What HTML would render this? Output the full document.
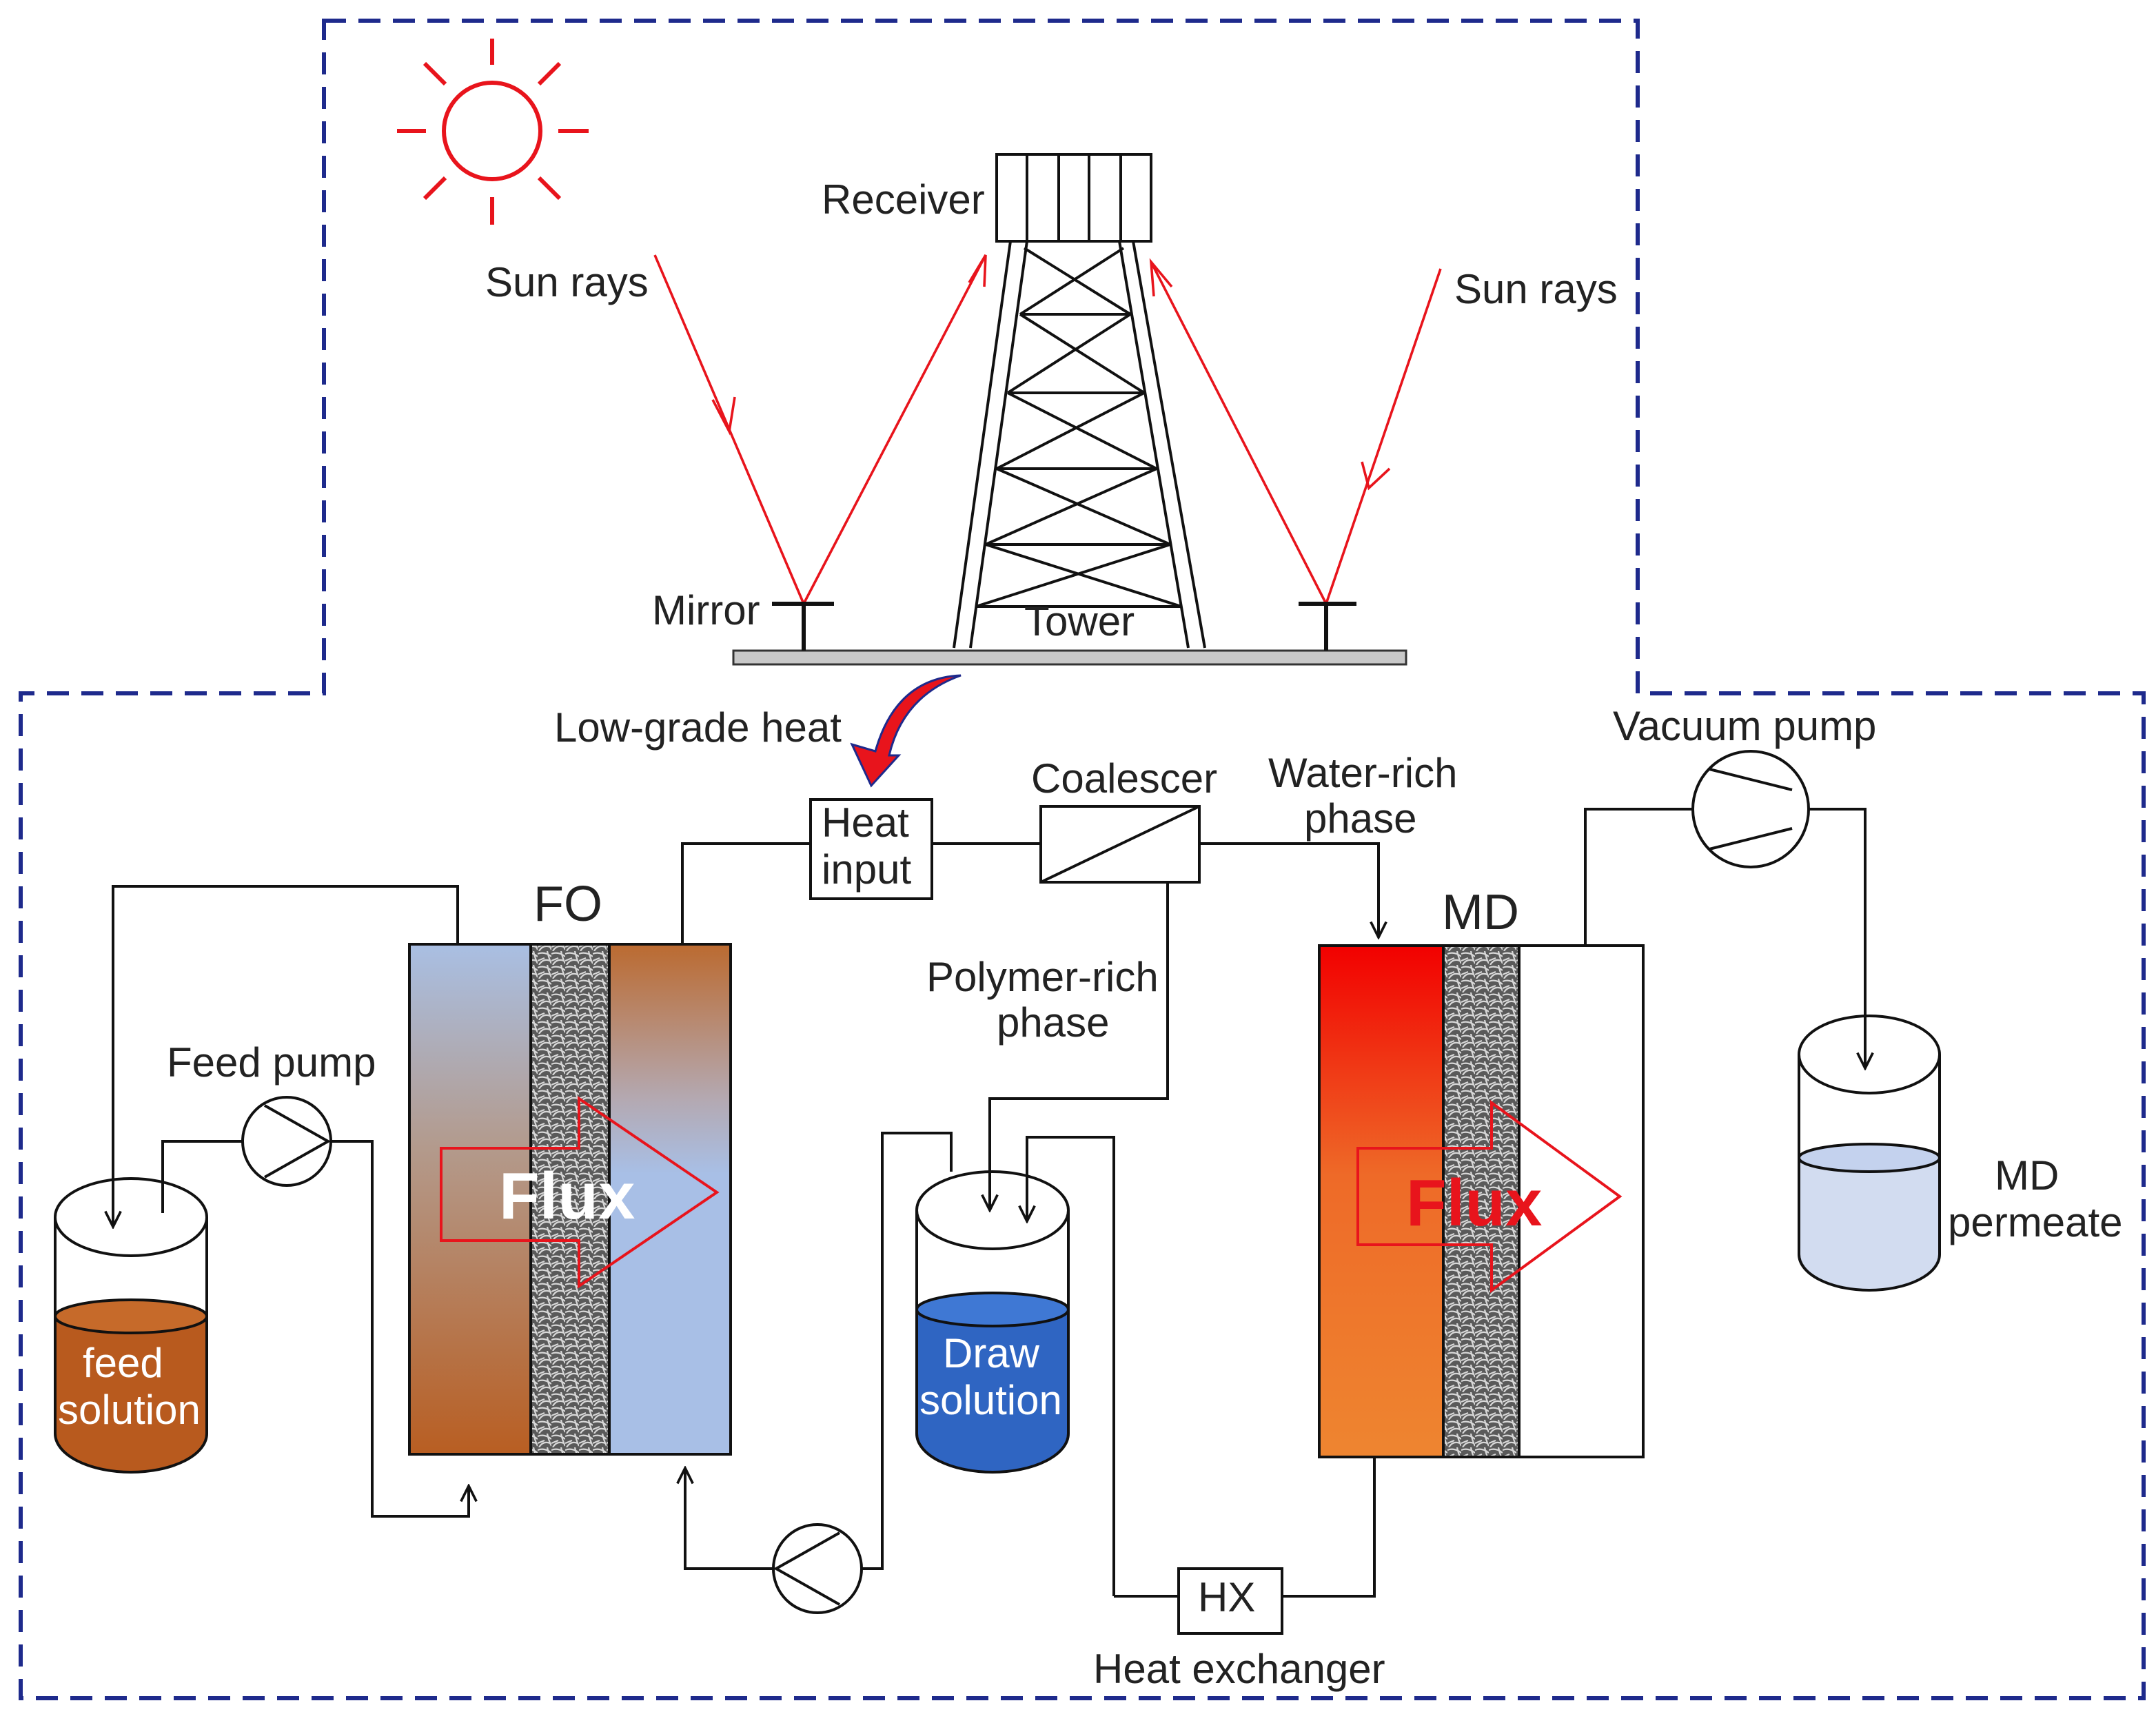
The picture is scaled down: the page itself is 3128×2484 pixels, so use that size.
<!DOCTYPE html>
<html><head><meta charset="utf-8"><style>
html,body{margin:0;padding:0;background:#fff;}
svg{display:block;}
text{font-family:"Liberation Sans",Arial,sans-serif;font-size:30px;fill:#222;}
</style></head><body>
<svg width="3128" height="2484" viewBox="0 0 1564 1242" xmlns="http://www.w3.org/2000/svg">
<defs>
<marker id="ah" viewBox="0 0 10 10" refX="9" refY="5" markerWidth="7" markerHeight="7" orient="auto"><path d="M1,1 L9,5 L1,9" fill="none" stroke="#111" stroke-width="1.3"/></marker>
<linearGradient id="foL" x1="0" y1="0" x2="0" y2="1"><stop offset="0" stop-color="#a9bfe3"/><stop offset="0.4" stop-color="#b39a8c"/><stop offset="1" stop-color="#b85e22"/></linearGradient>
<linearGradient id="foR" x1="0" y1="0" x2="0" y2="1"><stop offset="0" stop-color="#bb6a30"/><stop offset="0.3" stop-color="#b4a8b0"/><stop offset="0.45" stop-color="#a8bfe6"/><stop offset="1" stop-color="#a8bfe6"/></linearGradient>
<linearGradient id="md" x1="0" y1="0" x2="0" y2="1"><stop offset="0" stop-color="#f20000"/><stop offset="0.45" stop-color="#ee6a28"/><stop offset="1" stop-color="#ee8530"/></linearGradient>
<pattern id="mem" width="10" height="10" patternUnits="userSpaceOnUse"><rect width="10" height="10" fill="#5a5a5a"/><path d="M0,2 Q5,0 10,4 M1,10 Q4,5 9,7 M0,7 L5,5 M7,0 Q8,5 10,9" stroke="#d8d8d8" stroke-width="1.1" fill="none"/></pattern>
</defs>

<polygon points="235,15 1188,15 1188,503 1555,503 1555,1232 15,1232 15,503 235,503" fill="none" stroke="#1e2a8c" stroke-width="3" stroke-dasharray="16,9"/>

<g stroke="#e8141c" stroke-width="3" fill="none">
<circle cx="357" cy="95" r="35"/>
<line x1="357" y1="47" x2="357" y2="28"/><line x1="357" y1="143" x2="357" y2="163"/>
<line x1="309" y1="95" x2="288" y2="95"/><line x1="405" y1="95" x2="427" y2="95"/>
<line x1="323" y1="61" x2="308" y2="46"/><line x1="391" y1="61" x2="406" y2="46"/>
<line x1="323" y1="129" x2="308" y2="144"/><line x1="391" y1="129" x2="406" y2="144"/>
</g>

<g stroke="#e8141c" stroke-width="1.8" fill="none">
<polyline points="475,185 583,438 715,185"/>
<polyline points="1045,195 962,438 835,190"/>
<path d="M517,290 L529,313 L533,288" />
<path d="M703,205 L715,185 L714,208" />
<path d="M988,335 L993,354 L1008,340" />
<path d="M837,215 L835,190 L850,208" />
</g>

<rect x="723" y="112" width="112" height="63" fill="#fff" stroke="#111" stroke-width="2"/>
<g stroke="#111" stroke-width="2"><line x1="745" y1="112" x2="745" y2="175"/><line x1="768" y1="112" x2="768" y2="175"/><line x1="790" y1="112" x2="790" y2="175"/><line x1="813" y1="112" x2="813" y2="175"/></g>

<g stroke="#111" stroke-width="2" fill="none">
<line x1="733" y1="175" x2="692" y2="470"/><line x1="745" y1="175" x2="704" y2="470"/>
<line x1="812" y1="175" x2="862" y2="470"/><line x1="822" y1="175" x2="874" y2="470"/>
<line x1="740" y1="228" x2="820" y2="228"/>
<line x1="731" y1="285" x2="830" y2="285"/>
<line x1="723" y1="340" x2="839" y2="340"/>
<line x1="715" y1="395" x2="849" y2="395"/>
<line x1="708" y1="440" x2="857" y2="440"/>
<line x1="743" y1="180" x2="820" y2="228"/><line x1="815" y1="180" x2="740" y2="228"/>
<line x1="740" y1="228" x2="830" y2="285"/><line x1="820" y1="228" x2="731" y2="285"/>
<line x1="731" y1="285" x2="839" y2="340"/><line x1="830" y1="285" x2="723" y2="340"/>
<line x1="723" y1="340" x2="849" y2="395"/><line x1="839" y1="340" x2="715" y2="395"/>
<line x1="715" y1="395" x2="857" y2="440"/><line x1="849" y1="395" x2="708" y2="440"/>
</g>
<rect x="532" y="472" width="488" height="10" fill="#c8c8c8" stroke="#333" stroke-width="1.5"/>
<g stroke="#111" stroke-width="3"><line x1="560" y1="438" x2="605" y2="438"/><line x1="583" y1="438" x2="583" y2="472"/><line x1="942" y1="438" x2="984" y2="438"/><line x1="962" y1="438" x2="962" y2="472"/></g>

<text x="596" y="155">Receiver</text>
<text x="352" y="215">Sun rays</text>
<text x="1055" y="220">Sun rays</text>
<text x="473" y="453">Mirror</text>
<text x="743" y="461">Tower</text>

<path d="M697,490 Q650,492 635,545 L618,540 L632,570 L652,548 L645,548 Q655,505 697,490 Z" fill="#e8141c" stroke="#1e2a8c" stroke-width="1.5"/>
<text x="402" y="538">Low-grade heat</text>

<g stroke="#111" stroke-width="2" fill="none">
<line x1="676" y1="612" x2="755" y2="612"/>
<polyline points="870,612 1000,612 1000,680" marker-end="url(#ah)"/>
<polyline points="588,612 495,612 495,685"/>
<polyline points="332,685 332,643 82,643 82,890" marker-end="url(#ah)"/>
<polyline points="118,880 118,828 176,828"/>
<polyline points="240,828 270,828 270,1100 340,1100 340,1078" marker-end="url(#ah)"/>
<polyline points="561,1138 497,1138 497,1065" marker-end="url(#ah)"/>
<polyline points="625,1138 640,1138 640,822 690,822 690,850"/>
<polyline points="847,640 847,797 718,797 718,878" marker-end="url(#ah)"/>
<polyline points="808,1158 808,825 745,825 745,886" marker-end="url(#ah)"/>
<line x1="808" y1="1158" x2="855" y2="1158"/>
<polyline points="930,1158 997,1158 997,1057"/>
<polyline points="1150,686 1150,587 1228,587"/>
<polyline points="1312,587 1353,587 1353,775" marker-end="url(#ah)"/>
</g>

<rect x="588" y="580" width="88" height="72" fill="#fff" stroke="#111" stroke-width="2"/>
<text x="596" y="607">Heat</text><text x="596" y="641">input</text>
<rect x="755" y="585" width="115" height="55" fill="#fff" stroke="#111" stroke-width="2"/>
<line x1="755" y1="640" x2="870" y2="585" stroke="#111" stroke-width="2"/>
<text x="748" y="575">Coalescer</text>
<text x="920" y="571">Water-rich</text><text x="946" y="604">phase</text>
<text x="672" y="719">Polymer-rich</text><text x="723" y="752">phase</text>

<rect x="297" y="685" width="88" height="370" fill="url(#foL)" stroke="#111" stroke-width="2"/>
<rect x="385" y="685" width="57" height="370" fill="url(#mem)" stroke="#111" stroke-width="2"/>
<rect x="442" y="685" width="88" height="370" fill="url(#foR)" stroke="#111" stroke-width="2"/>
<text x="387" y="668" style="font-size:36px">FO</text>
<polygon points="320,833 420,833 420,797 520,865 420,933 420,900 320,900" fill="none" stroke="#e8141c" stroke-width="2"/>
<text x="362" y="884" style="font-size:48px;font-weight:bold;fill:#fff">Flux</text>

<rect x="957" y="686" width="90" height="371" fill="url(#md)" stroke="#111" stroke-width="2"/>
<rect x="1047" y="686" width="55" height="371" fill="url(#mem)" stroke="#111" stroke-width="2"/>
<rect x="1102" y="686" width="90" height="371" fill="#fff" stroke="#111" stroke-width="2"/>
<text x="1046" y="674" style="font-size:36px">MD</text>
<polygon points="985,833 1082,833 1082,800 1175,868 1082,936 1082,903 985,903" fill="none" stroke="#e8141c" stroke-width="2"/>
<text x="1020" y="889" style="font-size:48px;font-weight:bold;fill:#e8141c">Flux</text>

<path d="M40,955 L40,1040 A55,28 0 0 0 150,1040 L150,955 Z" fill="#b85a1e"/>
<ellipse cx="95" cy="955" rx="55" ry="12" fill="#c66a2a" stroke="#111" stroke-width="2"/>
<path d="M40,883 L40,1040 A55,28 0 0 0 150,1040 L150,883" fill="none" stroke="#111" stroke-width="2"/>
<ellipse cx="95" cy="883" rx="55" ry="28" fill="none" stroke="#111" stroke-width="2"/>
<text x="60" y="999" style="fill:#fff">feed</text><text x="42" y="1033" style="fill:#fff">solution</text>

<path d="M665,950 L665,1040 A55,28 0 0 0 775,1040 L775,950 Z" fill="#2f65c2"/>
<ellipse cx="720" cy="950" rx="55" ry="12" fill="#3f78d4" stroke="#111" stroke-width="2"/>
<path d="M665,878 L665,1040 A55,28 0 0 0 775,1040 L775,878" fill="none" stroke="#111" stroke-width="2"/>
<ellipse cx="720" cy="878" rx="55" ry="28" fill="none" stroke="#111" stroke-width="2"/>
<text x="684" y="992" style="fill:#fff">Draw</text><text x="667" y="1026" style="fill:#fff">solution</text>

<path d="M1305,840 L1305,910 A51,26 0 0 0 1407,910 L1407,840 Z" fill="#d2dcf0"/>
<ellipse cx="1356" cy="840" rx="51" ry="10" fill="#c4d2ee" stroke="#111" stroke-width="2"/>
<path d="M1305,765 L1305,910 A51,26 0 0 0 1407,910 L1407,765" fill="none" stroke="#111" stroke-width="2"/>
<ellipse cx="1356" cy="765" rx="51" ry="28" fill="none" stroke="#111" stroke-width="2"/>
<text x="1447" y="863">MD</text><text x="1413" y="897">permeate</text>

<circle cx="208" cy="828" r="32" fill="#fff" stroke="#111" stroke-width="2"/>
<polyline points="192,802 238,828 192,854" fill="none" stroke="#111" stroke-width="2"/>
<text x="121" y="781">Feed pump</text>
<circle cx="593" cy="1138" r="32" fill="#fff" stroke="#111" stroke-width="2"/>
<polyline points="609,1112 563,1138 609,1164" fill="none" stroke="#111" stroke-width="2"/>
<circle cx="1270" cy="587" r="42" fill="#fff" stroke="#111" stroke-width="2"/>
<line x1="1240" y1="558" x2="1300" y2="573" stroke="#111" stroke-width="2"/>
<line x1="1240" y1="616" x2="1300" y2="601" stroke="#111" stroke-width="2"/>
<text x="1170" y="537">Vacuum pump</text>

<rect x="855" y="1138" width="75" height="47" fill="#fff" stroke="#111" stroke-width="2"/>
<text x="869" y="1169">HX</text>
<text x="793" y="1221">Heat exchanger</text>
</svg>
</body></html>
